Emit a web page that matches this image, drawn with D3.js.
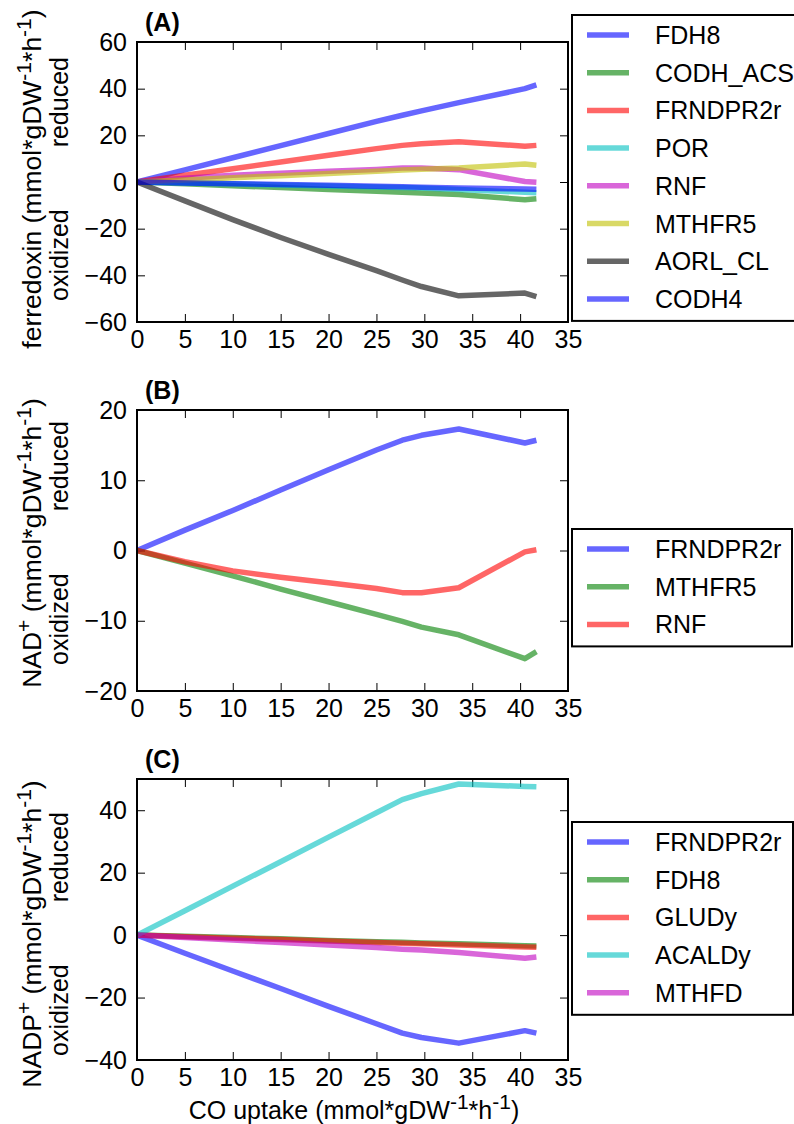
<!DOCTYPE html>
<html>
<head>
<meta charset="utf-8">
<script src="https://cdn.jsdelivr.net/npm/d3@7"></script>
<style>
  body { margin: 0; background: #fff; }
  svg { display: block; font-family: "Liberation Sans", Arial, sans-serif; }
  .tick text { font-size: 25px; fill: #000; }
  .tick line { stroke: #000; stroke-width: 1; }
</style>
</head>
<body>
<svg id="chart" width="794" height="1124"></svg>
<script>
// shared x values (CO uptake) and the odd tick labels of the original
const X_VALUES      = [0, 5, 10, 15, 20, 25, 27.7, 29.7, 33.6, 40.5, 41.7];
const X_TICKS       = [0, 5, 10, 15, 20, 25, 30, 35, 40, 45];
const X_TICK_LABELS = ["0", "5", "10", "15", "20", "25", "30", "35", "40", "35"];

// matplotlib single-letter colours
const MPL = { b: "#0000ff", g: "#008000", r: "#ff0000", c: "#00bfbf", m: "#bf00bf", y: "#bfbf00", k: "#000000" };

// panel A - ferredoxin
const A_NAMES  = ["FDH8", "CODH_ACS", "FRNDPR2r", "POR", "RNF", "MTHFR5", "AORL_CL", "CODH4"];
const A_COLORS = ["b", "g", "r", "c", "m", "y", "k", "b"];
const A_TICKS  = [-60, -40, -20, 0, 20, 40, 60];
const A_FDH8     = [0, 5.2, 10.4, 15.6, 20.8, 26.0, 28.6, 30.5, 34.0, 40.0, 41.6];
const A_CODH_ACS = [0, -0.8, -1.6, -2.4, -3.2, -4.0, -4.4, -4.7, -5.4, -7.6, -7.2];
const A_FRNDPR2r = [0, 2.9, 5.7, 8.6, 11.5, 14.3, 15.7, 16.4, 17.3, 15.3, 15.7];
const A_POR      = [0, -0.4, -0.8, -1.3, -1.7, -2.1, -2.4, -2.6, -3.2, -4.4, -4.6];
const A_RNF      = [0, 1.6, 2.9, 3.8, 4.6, 5.4, 6.0, 6.0, 5.3, 0.2, -0.1];
const A_MTHFR5   = [0, 0.9, 1.8, 2.7, 3.6, 4.6, 5.1, 5.5, 6.0, 7.7, 7.2];
const A_AORL_CL  = [0, -8.1, -16.1, -23.8, -31.0, -38.0, -42.0, -44.8, -48.8, -47.6, -49.1];
const A_CODH4    = [0, -0.4, -0.7, -1.1, -1.4, -1.8, -2.0, -2.2, -2.6, -3.0, -3.1];

// panel B - NAD+
const B_NAMES  = ["FRNDPR2r", "MTHFR5", "RNF"];
const B_COLORS = ["b", "g", "r"];
const B_TICKS  = [-20, -10, 0, 10, 20];
const B_FRNDPR2r = [0, 2.9, 5.7, 8.6, 11.5, 14.3, 15.7, 16.4, 17.3, 15.3, 15.7];
const B_MTHFR5   = [0, -1.8, -3.6, -5.5, -7.3, -9.1, -10.1, -10.9, -12.0, -15.4, -14.4];
const B_RNF      = [0, -1.6, -2.9, -3.8, -4.6, -5.4, -6.0, -6.0, -5.3, -0.2, 0.1];

// panel C - NADP+
const C_NAMES  = ["FRNDPR2r", "FDH8", "GLUDy", "ACALDy", "MTHFD"];
const C_COLORS = ["b", "g", "r", "c", "m"];
const C_TICKS  = [-40, -20, 0, 20, 40];
const C_FRNDPR2r = [0, -5.8, -11.5, -17.1, -22.8, -28.4, -31.4, -32.8, -34.6, -30.6, -31.4];
const C_FDH8     = [0, -0.4, -0.8, -1.2, -1.7, -2.1, -2.3, -2.5, -2.8, -3.4, -3.5];
const C_GLUDy    = [0, -0.5, -1.0, -1.4, -1.9, -2.4, -2.6, -2.8, -3.2, -3.8, -3.9];
const C_ACALDy   = [0, 7.8, 15.7, 23.5, 31.4, 39.2, 43.4, 45.3, 48.4, 47.6, 47.5];
const C_MTHFD    = [0, -0.8, -1.6, -2.4, -3.2, -4.0, -4.5, -4.8, -5.6, -7.4, -7.0];

const svg = d3.select("#chart");

const LEFT  = 137;
const RIGHT = 568;

const x = d3.scaleLinear().domain([0, 45]).range([LEFT, RIGHT]);

// appends "(mmol*gDW-1*h-1)" with raised exponents to a text element
function addUnits(t, lead, sup) {
  t.append("tspan").text(lead + "(mmol*gDW");
  t.append("tspan").attr("font-size", sup).attr("dy", -10).text("-1");
  t.append("tspan").attr("dy", 10).text("*h");
  t.append("tspan").attr("font-size", sup).attr("dy", -10).text("-1");
  t.append("tspan").attr("dy", 10).text(")");
}

function drawPanel(p) {
  const y = d3.scaleLinear().domain(p.domain).range([p.bottom, p.top]);
  const g = svg.append("g");

  // ticks on all four sides, pointing inwards
  g.append("g")
    .attr("transform", `translate(0,${p.bottom})`)
    .call(d3.axisBottom(x).tickValues(X_TICKS).tickSizeInner(-8).tickSizeOuter(0).tickPadding(8)
      .tickFormat((d, i) => X_TICK_LABELS[i]))
    .call(a => a.select(".domain").remove());
  g.append("g")
    .attr("transform", `translate(0,${p.top})`)
    .call(d3.axisTop(x).tickValues(X_TICKS).tickSizeInner(-8).tickSizeOuter(0).tickFormat(""))
    .call(a => a.select(".domain").remove());
  g.append("g")
    .attr("transform", `translate(${LEFT},0)`)
    .call(d3.axisLeft(y).tickValues(p.ticks).tickSizeInner(-8).tickSizeOuter(0).tickPadding(10)
      .tickFormat(d3.format("d")))
    .call(a => a.select(".domain").remove());
  g.append("g")
    .attr("transform", `translate(${RIGHT},0)`)
    .call(d3.axisRight(y).tickValues(p.ticks).tickSizeInner(-8).tickSizeOuter(0).tickFormat(""))
    .call(a => a.select(".domain").remove());

  g.selectAll(".tick text").attr("font-family", "Liberation Sans, Arial, sans-serif");

  const line = d3.line()
    .x((d, i) => x(X_VALUES[i]))
    .y(d => y(d));

  p.series.forEach((s, k) => {
    g.append("path")
      .attr("d", line(s))
      .attr("fill", "none")
      .attr("stroke", MPL[p.colors[k]])
      .attr("stroke-opacity", 0.6)
      .attr("stroke-width", 5.5)
      .attr("stroke-linejoin", "round");
  });

  // frame
  g.append("rect")
    .attr("x", LEFT).attr("y", p.top)
    .attr("width", RIGHT - LEFT).attr("height", p.bottom - p.top)
    .attr("fill", "none").attr("stroke", "#000").attr("stroke-width", 2);

  // panel letter
  g.append("text")
    .attr("x", 145).attr("y", p.top - 11)
    .attr("font-size", 25).attr("font-weight", "bold")
    .text(p.letter);

  // legend
  const rowH = 37.7;
  const lg = g.append("g").attr("transform", `translate(572,${p.legendTop})`);
  lg.append("rect")
    .attr("width", p.legendW).attr("height", 20 + (p.names.length - 1) * rowH + 22)
    .attr("fill", "#fff").attr("stroke", "#000").attr("stroke-width", 2);
  p.names.forEach((n, k) => {
    const ry = 20 + k * rowH;
    lg.append("line")
      .attr("x1", 15).attr("x2", 57).attr("y1", ry).attr("y2", ry)
      .attr("stroke", MPL[p.colors[k]]).attr("stroke-opacity", 0.6).attr("stroke-width", 5.5);
    lg.append("text")
      .attr("x", 83).attr("y", ry + 9)
      .attr("font-size", 25)
      .text(n);
  });

  // y label: two lines, rotated
  const cy = p.labelCenter;
  const l1 = g.append("text")
    .attr("transform", `translate(41,${cy}) rotate(-90)`)
    .attr("text-anchor", "middle")
    .attr("font-size", 26.5);
  l1.append("tspan").text(p.quantity);
  if (p.plus) {
    l1.append("tspan").attr("font-size", 21).attr("dy", -10).text("+");
    l1.append("tspan").attr("dy", 10).text(" ");
  } else {
    l1.append("tspan").text(" ");
  }
  addUnits(l1, "", 21);

  g.append("text")
    .attr("transform", `translate(68,${cy + 122}) rotate(-90)`)
    .attr("text-anchor", "start").attr("font-size", 25)
    .text("oxidized");
  g.append("text")
    .attr("transform", `translate(68,${cy - 122}) rotate(-90)`)
    .attr("text-anchor", "end").attr("font-size", 25)
    .text("reduced");
}

drawPanel({
  letter: "(A)", top: 42, bottom: 322, domain: [-60, 60], ticks: A_TICKS,
  names: A_NAMES, colors: A_COLORS,
  series: [A_FDH8, A_CODH_ACS, A_FRNDPR2r, A_POR, A_RNF, A_MTHFR5, A_AORL_CL, A_CODH4],
  legendTop: 15, legendW: 260, labelCenter: 179, quantity: "ferredoxin", plus: false
});

drawPanel({
  letter: "(B)", top: 410, bottom: 691, domain: [-20, 20], ticks: B_TICKS,
  names: B_NAMES, colors: B_COLORS,
  series: [B_FRNDPR2r, B_MTHFR5, B_RNF],
  legendTop: 529, legendW: 220, labelCenter: 543, quantity: "NAD", plus: true
});

drawPanel({
  letter: "(C)", top: 779, bottom: 1060, domain: [-40, 50], ticks: C_TICKS,
  names: C_NAMES, colors: C_COLORS,
  series: [C_FRNDPR2r, C_FDH8, C_GLUDy, C_ACALDy, C_MTHFD],
  legendTop: 822, legendW: 221, labelCenter: 934, quantity: "NADP", plus: true
});

// x label
const xl = svg.append("text")
  .attr("x", 354).attr("y", 1119)
  .attr("text-anchor", "middle")
  .attr("font-size", 25);
addUnits(xl, "CO uptake ", 21);
</script>
</body>
</html>
